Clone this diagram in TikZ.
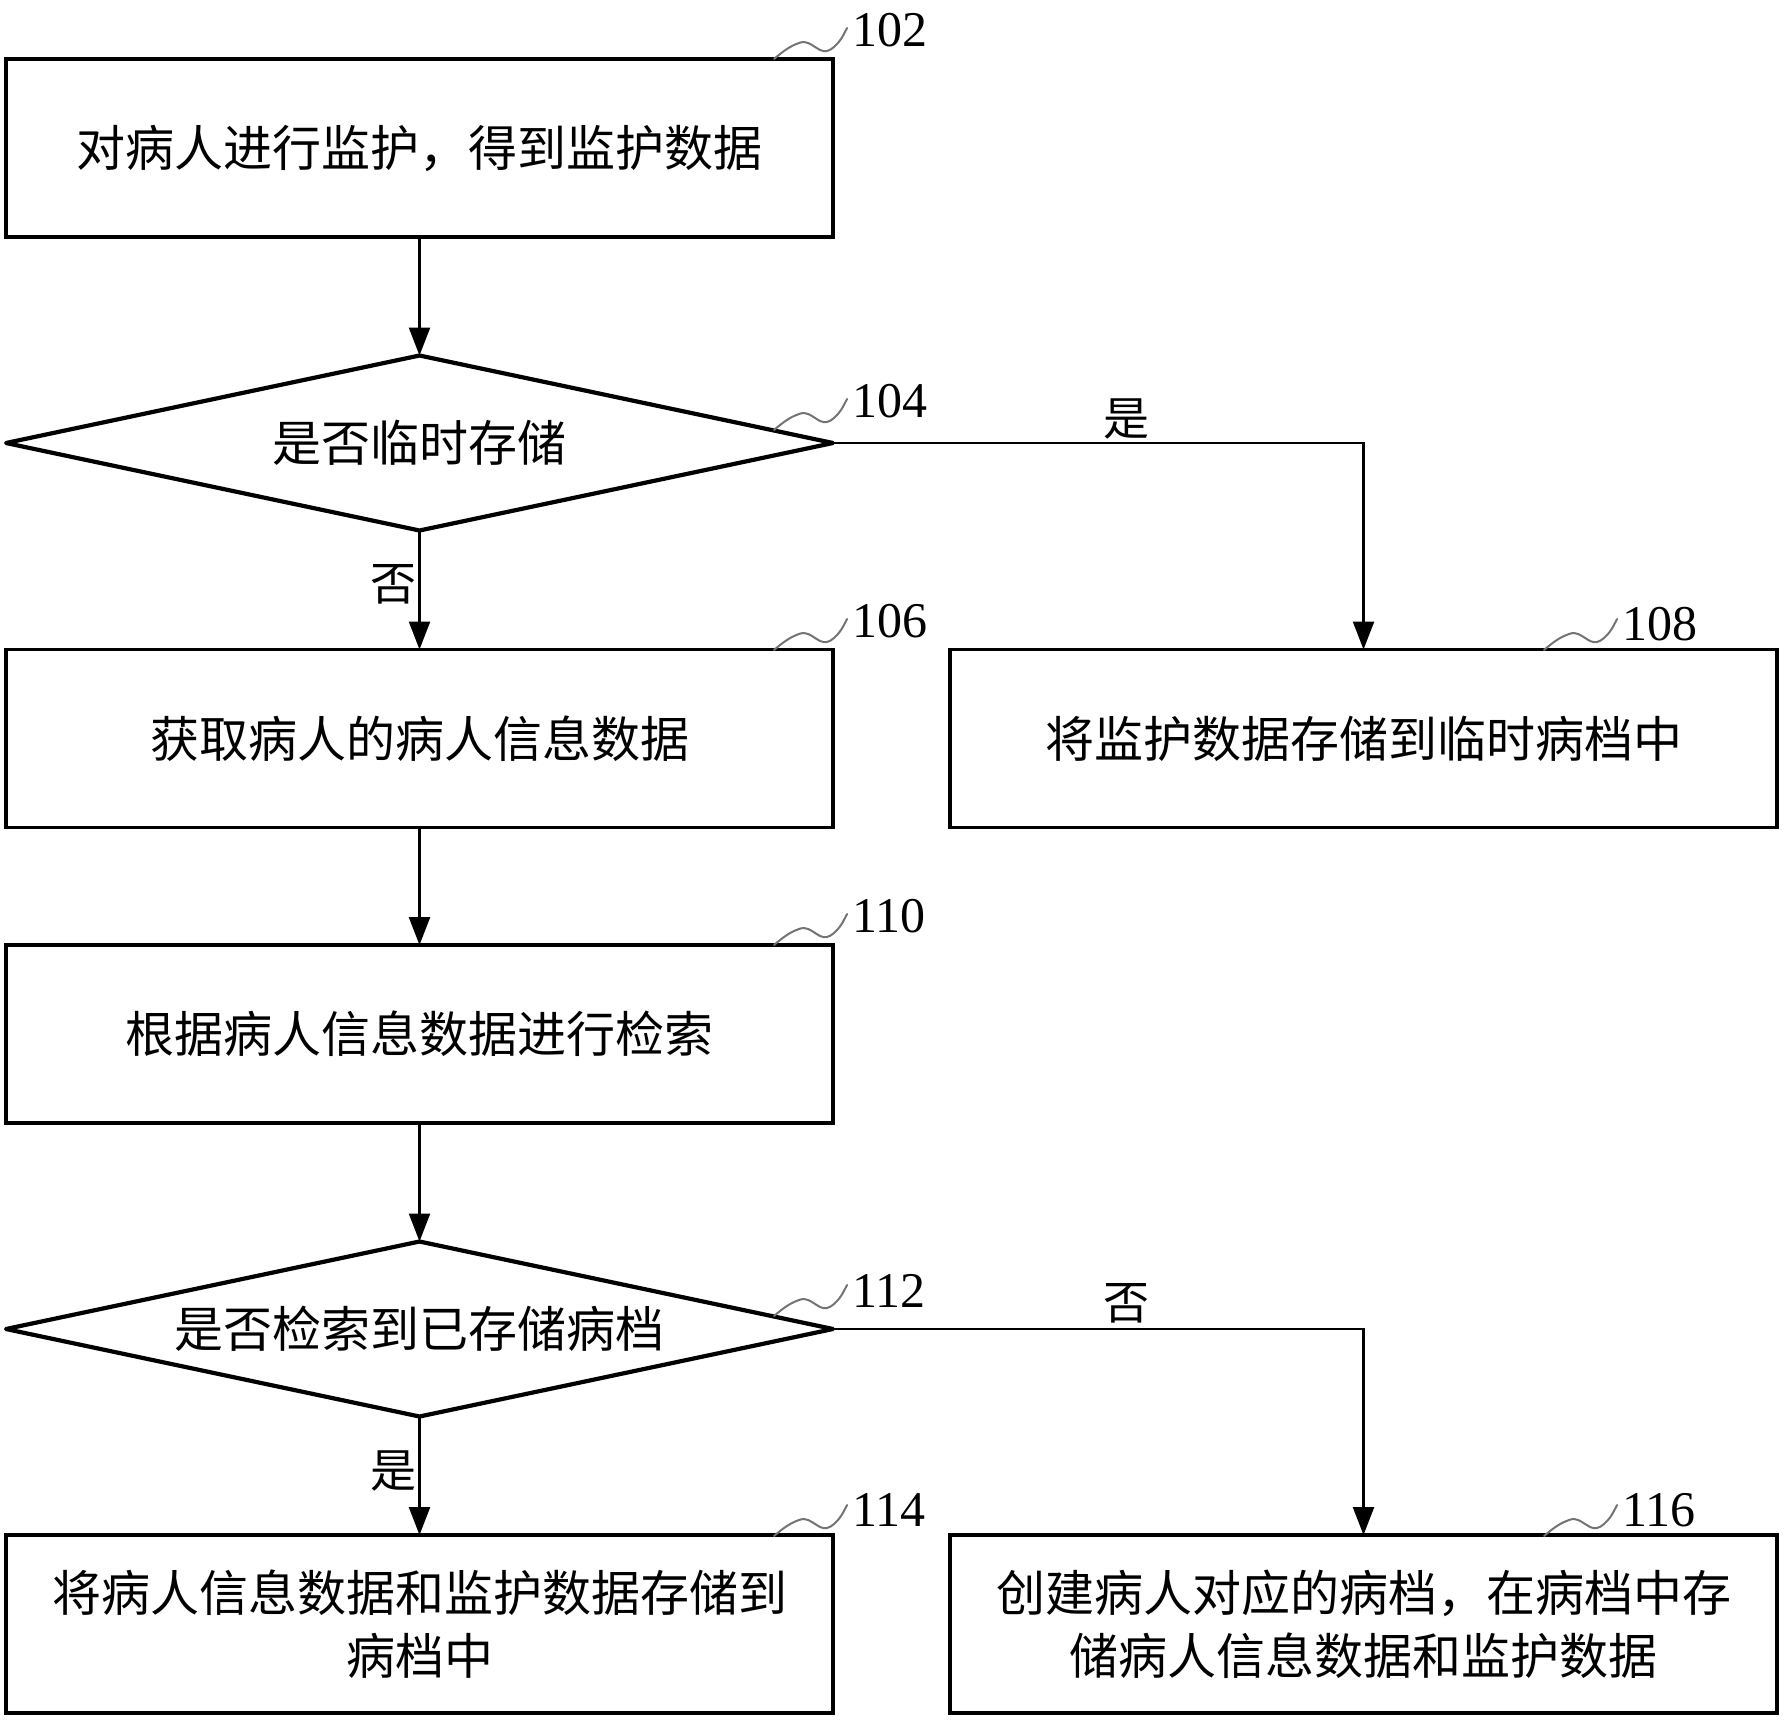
\documentclass[tikz,border=0pt]{standalone}
\usepackage{fontspec}
\setmainfont{Liberation Serif}
\newfontfamily\cjk{Noto Sans CJK SC}
\usetikzlibrary{shapes.geometric,arrows.meta}
\begin{document}
\begin{tikzpicture}[x=1pt,y=-1pt,
  box/.style={draw, rectangle, line width=3.2pt, minimum width=827pt, minimum height=178pt,
    inner sep=0pt, outer sep=0pt, align=center, font=\cjk\fontsize{49}{63}\selectfont},
  dia/.style={draw, diamond, aspect=4.726, line width=4.2pt, line join=round, minimum width=827pt, minimum height=175pt,
    inner sep=0pt, outer sep=0pt, font=\cjk\fontsize{49}{63}\selectfont},
  conn/.style={line width=2.4pt, -{Triangle[length=28pt,width=21pt]}},
  yn/.style={inner sep=0pt, font=\cjk\fontsize{46}{50}\selectfont},
  num/.style={inner sep=0pt, anchor=west, font=\fontsize{50}{50}\selectfont},
  squig/.pic={\draw[line width=2pt, black!55, line cap=round]
    plot[smooth, tension=0.6] coordinates {(0,0) (10,-8) (20,-14) (30,-17) (38,-14) (46,-9) (53,-8) (60,-12) (67,-20) (73,-31)};}
]
\useasboundingbox (0,0) rectangle (1784,1720);

% nodes
\node[box] (b102) at (419.5,148) {对病人进行监护，得到监护数据};
\node[dia] (d104) at (419.5,443) {是否临时存储};
\node[box] (b106) at (419.5,738.5) {获取病人的病人信息数据};
\node[box] (b108) at (1363.5,738.5) {将监护数据存储到临时病档中};
\node[box] (b110) at (419.5,1034) {根据病人信息数据进行检索};
\node[dia] (d112) at (419.5,1329) {是否检索到已存储病档};
\node[box] (b114) at (419.5,1624) {将病人信息数据和监护数据存储到\\病档中};
\node[box] (b116) at (1363.5,1624) {创建病人对应的病档，在病档中存\\储病人信息数据和监护数据};

% connectors
\draw[conn] (b102.south) -- (d104.north);
\draw[conn] (d104.east) -| (b108.north);
\draw[conn] (d104.south) -- (b106.north);
\draw[conn] (b106.south) -- (b110.north);
\draw[conn] (b110.south) -- (d112.north);
\draw[conn] (d112.east) -| (b116.north);
\draw[conn] (d112.south) -- (b114.north);

% branch labels
\node[yn] (l104y) at (1126,419) {是};
\node[yn] (l104n) at (393,584) {否};
\node[yn] (l112n) at (1126,1303) {否};
\node[yn] (l112y) at (393,1471) {是};

% reference squiggles and numbers
\pic at (774,59) {squig};
\node[num] (n102) at (852,30) {102};
\pic at (774,430) {squig};
\node[num] (n104) at (852,401) {104};
\pic at (774,650) {squig};
\node[num] (n106) at (852,621) {106};
\pic at (1544,650) {squig};
\node[num] (n108) at (1622,624) {108};
\pic at (774,945) {squig};
\node[num] (n110) at (852,916) {110};
\pic at (774,1316) {squig};
\node[num] (n112) at (852,1291) {112};
\pic at (774,1536) {squig};
\node[num] (n114) at (852,1510) {114};
\pic at (1544,1536) {squig};
\node[num] (n116) at (1622,1510) {116};
\end{tikzpicture}
\end{document}
